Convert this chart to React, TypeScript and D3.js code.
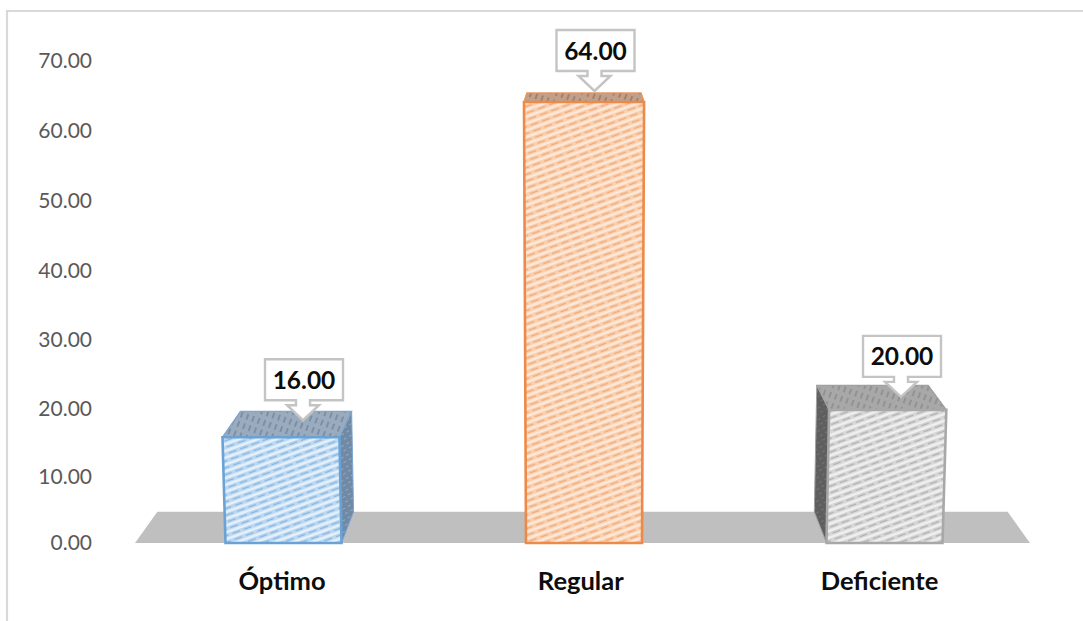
import React from "react";
import * as d3 from "d3";

const categories = ["Óptimo", "Regular", "Deficiente"];
const values = [16, 64, 20];
const tickValues = [0, 10, 20, 30, 40, 50, 60, 70];

// Layout only (not data)
const W = 1083, H = 621;
const BASE_Y = 543;
const FONT = "Lato, Carlito, 'Open Sans', sans-serif";
const calloutDx = [19.5, 10.5, 16.5];
const calloutDy = [-17, -11, -13];
const faceStyles = [
  { id: "b", bg: "#bcd8f1", stripe: "#e6f1fb", line: "#7fb0de", stroke: "#6aa2d6", top: "#9aabbd", topLine: "#7488a0", side: "#6f8aa6", sideLine: "#93a9bf", topStroke: "#7ba6cf" },
  { id: "o", bg: "#f9cfae", stripe: "#fde9d9", line: "#f0a470", stroke: "#ed8a48", top: "#c0a08a", topLine: "#987a66", side: "#c98a5e", sideLine: "#e0a67d", topStroke: "#e8965c" },
  { id: "g", bg: "#d6d6d6", stripe: "#f0f0f0", line: "#ababab", stroke: "#a8a8a8", top: "#a8a8a8", topLine: "#8c8c8c", side: "#5e5e5e", sideLine: "#767676", topStroke: "#a0a0a0" },
];

const yAxis = d3.scalePow().exponent(1.02).domain([0, 70]).range([BASE_Y, 61]);
const yBar = d3.scalePow().exponent(1.03).domain([0, 64]).range([BASE_Y, 102]);
const xBar = d3.scalePoint<string>().domain(categories).range([283.5, 884.5]);
const xLabel = d3.scalePoint<string>().domain(categories).range([282, 879.5]);

const CX = 583, VP_Y = -80, K = 0.95, HALF = 58;
type P = [number, number];
const front = (x: number, y: number): P => [CX + (x - CX) * (1 + (BASE_Y - y) * 0.00008), y];
const back = ([x, y]: P): P => [CX + (x - CX) * K, VP_Y + (y - VP_Y) * K];
const poly = d3.line().curve(d3.curveLinearClosed);

function Callout({ tip, label }: { tip: P; label: string }) {
  const [tx, ty] = tip;
  const bx = tx + 1, boxW = 78, boxH = 41;
  const boxBottom = ty - 20;
  const boxTop = boxBottom - boxH;
  const neck = boxBottom + 5;
  const d = [
    [bx - boxW / 2, boxTop], [bx + boxW / 2, boxTop], [bx + boxW / 2, boxBottom],
    [tx + 7, boxBottom], [tx + 7, neck], [tx + 16, neck], [tx, ty],
    [tx - 16, neck], [tx - 7, neck], [tx - 7, boxBottom], [bx - boxW / 2, boxBottom],
  ] as P[];
  return (
    <g>
      <path d={poly(d) ?? ""} fill="#fff" stroke="#c4c4c4" strokeWidth={2.4} />
      <text x={bx} y={boxTop + 21} dy="0.35em" textAnchor="middle" fontFamily={FONT} fontWeight={700} fontSize={24.5} fill="#0d0d0d">{label}</text>
    </g>
  );
}

export default function App() {
  const fl = front(135, BASE_Y), fr = front(1030, BASE_Y);
  return (
    <svg width={W} height={H} style={{ position: "absolute", left: 0, top: 0, display: "block", background: "#fff" }}>
      <defs>
        <filter id="soft" x="-5%" y="-5%" width="110%" height="110%"><feGaussianBlur stdDeviation="0.55" /></filter>
        {faceStyles.map((s) => (
          <React.Fragment key={s.id}>
            <pattern id={`front-${s.id}`} width={12} height={6.4} patternUnits="userSpaceOnUse" patternTransform="rotate(-20)">
              <rect width={12} height={6.4} fill={s.bg} />
              <rect y={0.4} width={12} height={2.4} fill={s.stripe} />
              <line x1={0} y1={4.8} x2={12} y2={4.8} stroke={s.line} strokeWidth={1.1} strokeDasharray="8 4" />
            </pattern>
            <pattern id={`top-${s.id}`} width={10} height={6} patternUnits="userSpaceOnUse" patternTransform="rotate(-70)">
              <rect width={10} height={6} fill={s.top} />
              <line x1={0} y1={3} x2={10} y2={3} stroke={s.topLine} strokeWidth={1.6} strokeDasharray="6 4" />
            </pattern>
            <pattern id={`side-${s.id}`} width={6} height={5} patternUnits="userSpaceOnUse" patternTransform="rotate(-30)">
              <rect width={6} height={5} fill={s.side} />
              <line x1={0} y1={2.5} x2={6} y2={2.5} stroke={s.sideLine} strokeWidth={1} strokeDasharray="3 3" />
            </pattern>
          </React.Fragment>
        ))}
      </defs>

      {/* frame */}
      <path d={`M7,${H} V11 H${W}`} fill="none" stroke="#d9d9d9" strokeWidth={2.2} />

      {/* y axis */}
      {tickValues.map((t) => (
        <text key={t} x={92} y={yAxis(t)} dy="0.35em" textAnchor="end" fontFamily={FONT} fontSize={21} fill="#595959">{t.toFixed(2)}</text>
      ))}

      <g filter="url(#soft)">
        {/* floor */}
        <path d={poly([fl, fr, back(fr), back(fl)]) ?? ""} fill="#bfbfbf" />

        {/* bars */}
        {categories.map((c, i) => {
          const s = faceStyles[i];
          const cx = xBar(c)!;
          const top = yBar(values[i]);
          const lb = front(cx - HALF, BASE_Y), rb = front(cx + HALF, BASE_Y);
          const lt = front(cx - HALF, top), rt = front(cx + HALF, top);
          return (
            <g key={c}>
              <path d={poly([rt, back(rt), back(rb), rb]) ?? ""} fill={`url(#side-${s.id})`} stroke={s.topStroke} strokeWidth={1} />
              <path d={poly([lt, back(lt), back(lb), lb]) ?? ""} fill={`url(#side-${s.id})`} stroke={s.topStroke} strokeWidth={1} />
              <path d={poly([lt, rt, back(rt), back(lt)]) ?? ""} fill={`url(#top-${s.id})`} stroke={s.topStroke} strokeWidth={1.2} />
              <path d={poly([lt, rt, rb, lb]) ?? ""} fill={`url(#front-${s.id})`} stroke={s.stroke} strokeWidth={2.6} />
            </g>
          );
        })}
      </g>

      {/* callouts */}
      {categories.map((c, i) => (
        <Callout key={c} tip={[xBar(c)! + calloutDx[i], yBar(values[i]) + calloutDy[i]]} label={values[i].toFixed(2)} />
      ))}

      {/* categories */}
      {categories.map((c) => (
        <text key={c} x={xLabel(c)!} y={581} dy="0.35em" textAnchor="middle" fontFamily={FONT} fontWeight={700} fontSize={25.5} fill="#0d0d0d">{c}</text>
      ))}
    </svg>
  );
}
